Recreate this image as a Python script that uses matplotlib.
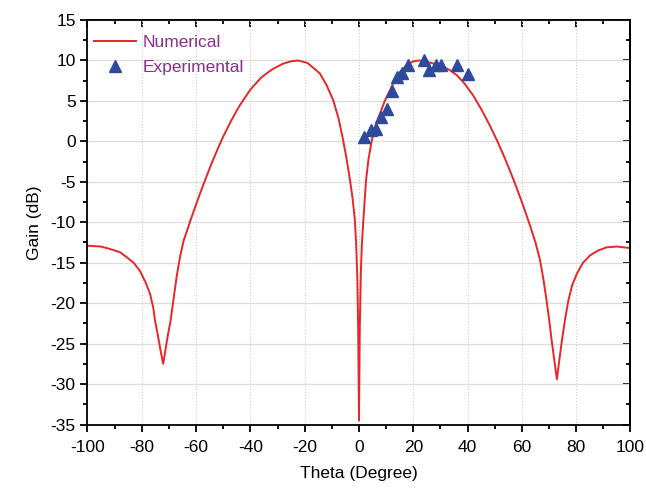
import matplotlib.pyplot as plt
from matplotlib.ticker import MultipleLocator

# numerical curve
theta_num = [-100, -95, -91.7, -88, -85.6, -83, -80.7, -78.5, -77, -75.8, -75.1,
             -74, -73, -72.1, -71.2, -70.3, -69.4, -68.3, -67.1, -65.8, -64.6,
             -62.1, -60, -58, -56, -54, -52, -50, -47, -44, -40, -36, -32,
             -28, -25, -22.4, -19, -16.5, -14.4, -12, -9.5, -7.5, -5.8, -4.5,
             -3.3, -2.3, -1.5, -1.0, -0.6, -0.3, 0,
             0.3, 0.7, 1.1, 1.6, 2.6, 3.5, 4.7, 6, 7.7, 9.5, 11.4, 13, 15.1,
             17.5, 20, 22, 24, 26.5, 29.7, 33, 36, 39, 42, 45, 48, 51,
             54, 57, 60, 63, 65, 66.7, 68, 69.1, 70.1, 71, 72,
             72.9, 73.8, 74.7, 75.9, 77.1, 78.5, 80.2, 82.5, 85.1, 88, 91.2,
             95, 100]
gain_num = [-12.9, -13.0, -13.3, -13.7, -14.3, -15.0, -16, -17.5, -18.8, -20.5, -22.2,
            -24.1, -26, -27.5, -25.6, -23.8, -22.2, -19.5, -16.6, -14.1, -12.3,
            -9.8, -7.8, -5.95, -4.2, -2.5, -0.9, 0.6, 2.6, 4.4, 6.4, 7.9, 8.9,
            9.6, 9.9, 10, 9.7, 9.0, 8.4, 7.0, 5.1, 2.8, 0.1, -2.3,
            -4.8, -7.2, -9.8, -13, -17, -23, -34.5,
            -23, -16, -12.5, -9.8, -4.8, -2.2, 0.1, 1.9, 3.4, 5, 6.3, 7.5, 8.6,
            9.4, 9.9, 10, 9.9, 9.7, 9.4, 8.9, 8.2, 7.1, 5.7, 4.0, 2.1, 0.0,
            -2.3, -4.8, -7.5, -10.4, -12.5, -14.7, -17.2, -19.7, -22.2, -24.7, -27.2,
            -29.4, -27, -24.7, -22, -19.7, -17.8, -16.4, -15, -14.1, -13.5, -13.1,
            -13.0, -13.2]

# experimental points
theta_exp = [1.8, 4.3, 6.1, 8.0, 10.2, 12.0, 14.1, 16.0, 18.2, 24.1, 25.9, 28.4, 30.3, 36.0, 40.3]
gain_exp = [0.5, 1.4, 1.5, 3.0, 4.0, 6.2, 7.9, 8.4, 9.4, 10.1, 8.8, 9.4, 9.4, 9.4, 8.3]

plt.rcParams['font.family'] = ['Liberation Sans', 'DejaVu Sans']
plt.rcParams['axes.unicode_minus'] = False

fig = plt.figure(figsize=(6.46, 4.91), dpi=100)
ax = fig.add_axes([0.1354, 0.1354, 0.8406, 0.8238])

ax.plot(theta_num, gain_num, color='#e8262a', lw=1.4, label='Numerical')
ax.plot(theta_exp, gain_exp, ls='none', marker='^', ms=8, color='#2d4a9c',
        label='Experimental')

ax.set_xlim(-100, 100)
ax.set_ylim(-35, 15)
ax.xaxis.set_major_locator(MultipleLocator(20))
ax.xaxis.set_minor_locator(MultipleLocator(10))
ax.yaxis.set_major_locator(MultipleLocator(5))
ax.yaxis.set_minor_locator(MultipleLocator(2.5))

ax.grid(True, axis='y', color='#dddddd', lw=0.9, ls='-')
ax.grid(True, axis='x', color='#cccccc', lw=0.8, ls=':')
ax.set_axisbelow(True)

ax.tick_params(which='both', direction='out', width=1.3, labelsize=12.5)
ax.tick_params(axis='x', which='both', pad=6)
ax.tick_params(which='major', length=5)
ax.tick_params(which='minor', length=3)
for sp in ax.spines.values():
    sp.set_linewidth(1.3)

# inward ticks on top and right
top = ax.secondary_xaxis('top')
top.xaxis.set_major_locator(MultipleLocator(20))
top.xaxis.set_minor_locator(MultipleLocator(10))
top.tick_params(which='both', direction='in', width=1.3, labeltop=False)
top.tick_params(which='major', length=5)
top.tick_params(which='minor', length=3)
top.spines['top'].set_linewidth(1.3)
right = ax.secondary_yaxis('right')
right.yaxis.set_major_locator(MultipleLocator(5))
right.yaxis.set_minor_locator(MultipleLocator(2.5))
right.tick_params(which='both', direction='in', width=1.3, labelright=False)
right.tick_params(which='major', length=5)
right.tick_params(which='minor', length=3)
right.spines['right'].set_linewidth(1.3)

ax.set_xlabel('Theta (Degree)', fontsize=12.5, labelpad=8)
ax.set_ylabel('Gain (dB)', fontsize=12.5, labelpad=6)

leg = ax.legend(loc='upper left', bbox_to_anchor=(0.0, 0.98), frameon=False,
                fontsize=12.5, handlelength=2.4, handletextpad=0.35,
                borderaxespad=0.0, labelspacing=0.55)
for t in leg.get_texts():
    t.set_color('#8b2d8b')

fig.savefig('out.png', dpi=100)
